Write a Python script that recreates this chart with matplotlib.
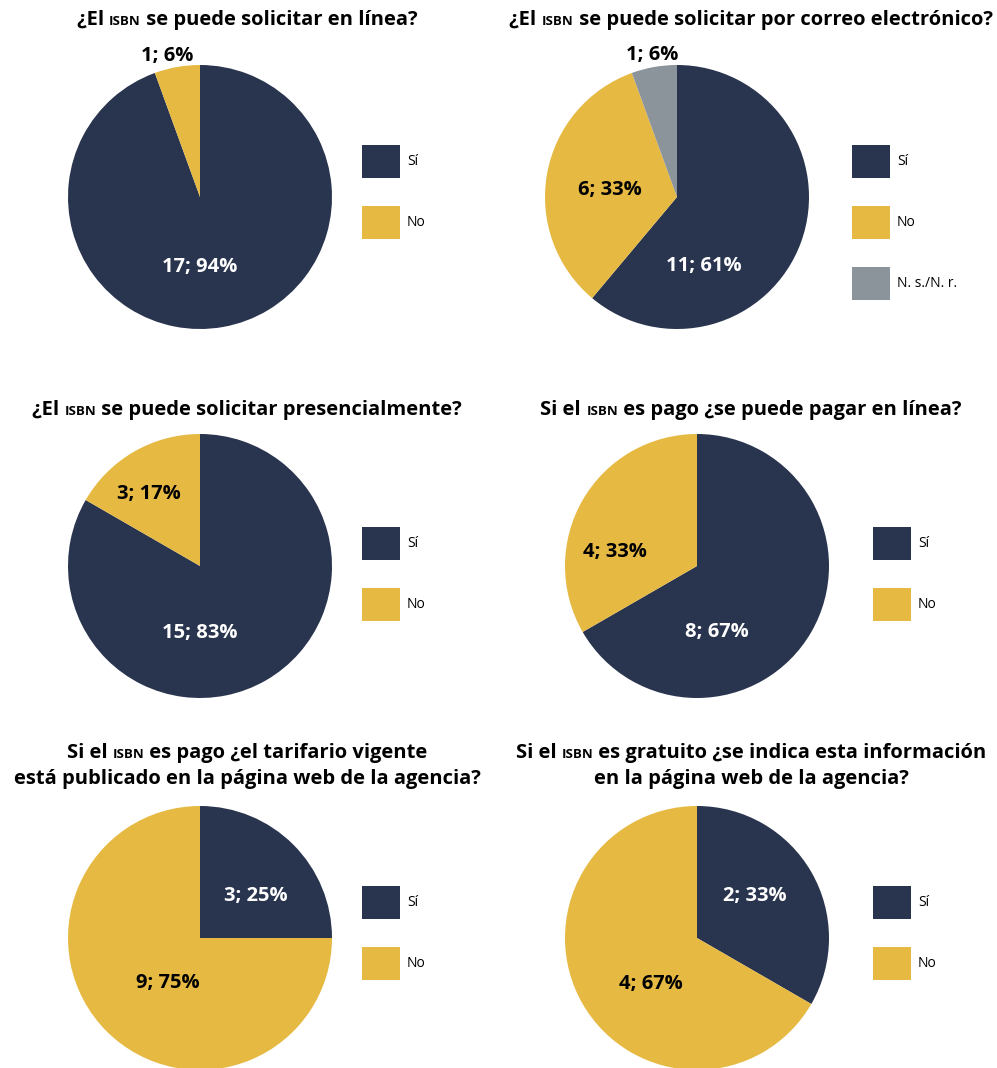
#six pie charts about ISBN requests, 3x2 grid
import matplotlib
matplotlib.use("Agg")
import numpy as np
from matplotlib import pyplot as plt
from matplotlib.patches import Rectangle
from matplotlib.offsetbox import TextArea, HPacker, VPacker, AnnotationBbox

plt.rcParams['font.family'] = ['Open Sans', 'DejaVu Sans']

#data
cats_2 = ["Sí", "No"]
cats_3 = ["Sí", "No", "N. s./N. r."]
online = [17, 1]
email = [11, 6, 1]
in_person = [15, 3]
pay_online = [8, 4]
fees_published = [3, 9]
free_info = [2, 4]

#titles: pieces (text, is_small_caps), lists of lines
titles = [
    [[("¿El ", False), ("isbn", True), (" se puede solicitar en línea?", False)]],
    [[("¿El ", False), ("isbn", True), (" se puede solicitar por correo electrónico?", False)]],
    [[("¿El ", False), ("isbn", True), (" se puede solicitar presencialmente?", False)]],
    [[("Si el ", False), ("isbn", True), (" es pago ¿se puede pagar en línea?", False)]],
    [[("Si el ", False), ("isbn", True), (" es pago ¿el tarifario vigente", False)],
     [("está publicado en la página web de la agencia?", False)]],
    [[("Si el ", False), ("isbn", True), (" es gratuito ¿se indica esta información", False)],
     [("en la página web de la agencia?", False)]],
]

values = [online, email, in_person, pay_online, fees_published, free_info]
categories = [cats_2, cats_3, cats_2, cats_2, cats_2, cats_2]

#layout (pixels)
W, H = 997, 1068
R = 132
colors = {"Sí": "#29344E", "No": "#E5B942", "N. s./N. r.": "#8B939B"}
text_colors = {"Sí": "white", "No": "black", "N. s./N. r.": "black"}
pie_centers = [(200, 197), (677, 197), (200, 566), (697, 566), (200, 938), (697, 938)]
title_pos = [(247, 20), (751, 20), (247, 410), (751, 410), (247, 766), (751, 766)]
legend_x = [362, 852, 362, 873, 362, 873]
legend_y = [145, 145, 527, 527, 886, 886]
#label placement per wedge: (angle in degrees, distance in radius units)
label_polar = [
    [(-90, 0.53), (103, 1.10)],
    [(-69, 0.56), (174, 0.51), (100, 1.09)],
    [(-90, 0.51), (125, 0.67)],
    [(-73, 0.52), (170, 0.63)],
    [(37, 0.53), (-126, 0.42)],
    [(36, 0.54), (-135, 0.49)],
]

fig = plt.figure(figsize=(W / 100, H / 100), dpi=100)


def fx(px):
    return px / W


def fy(py):
    return 1 - py / H


for i in range(6):
    cx, cy = pie_centers[i]
    ax = fig.add_axes([fx(cx - R), fy(cy + R), 2 * R / W, 2 * R / H])
    vals = values[i]
    cats = categories[i]
    ax.pie(vals, colors=[colors[c] for c in cats], startangle=90, counterclock=False,
           radius=1, wedgeprops=dict(linewidth=0))
    ax.set_xlim(-1, 1)
    ax.set_ylim(-1, 1)
    ax.axis('off')
    total = sum(vals)
    for j, v in enumerate(vals):
        ang, dist = label_polar[i][j]
        a = np.deg2rad(ang)
        pct = round(100 * v / total)
        ax.text(dist * np.cos(a), dist * np.sin(a), f"{v}; {pct}%", ha='center', va='center',
                fontsize=14.5, fontweight='bold', color=text_colors[cats[j]], clip_on=False)

    #legend
    for j, c in enumerate(cats):
        y0 = legend_y[i] + j * 61
        fig.add_artist(Rectangle((fx(legend_x[i]), fy(y0 + 33)), 38 / W, 33 / H,
                                 transform=fig.transFigure, facecolor=colors[c], edgecolor='none'))
        fig.text(fx(legend_x[i] + 45), fy(y0 + 16.5), c, ha='left', va='center', fontsize=10)

    #title with small caps
    lines = []
    for line in titles[i]:
        parts = []
        for txt, small in line:
            if small:
                parts.append(TextArea(txt.upper(), textprops=dict(fontsize=9.5, fontweight='bold')))
            else:
                parts.append(TextArea(txt, textprops=dict(fontsize=14.5, fontweight='bold')))
        lines.append(HPacker(children=parts, pad=0, sep=0, align='baseline'))
    box = VPacker(children=lines, pad=0, sep=5, align='center')
    tx, ty = title_pos[i]
    ab = AnnotationBbox(box, (fx(tx), fy(ty)), xycoords='figure fraction',
                        box_alignment=(0.5, 0.5), frameon=False)
    fig.add_artist(ab)

fig.savefig("out.png", dpi=100)
